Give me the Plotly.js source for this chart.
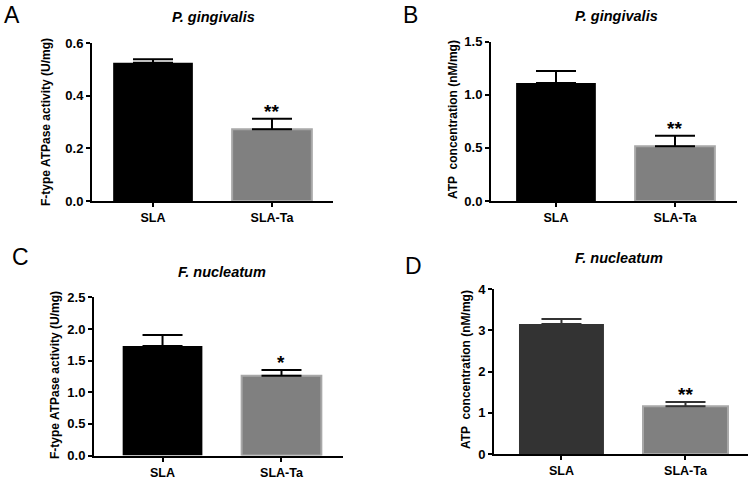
<!DOCTYPE html>
<html><head><meta charset="utf-8">
<script src="https://cdn.plot.ly/plotly-3.0.1.min.js"></script>
<style>html,body{margin:0;padding:0;background:#fff}#chart{width:753px;height:478px}</style>
</head><body><div id="chart"></div>
<script>
var categories = ['SLA', 'SLA-Ta'];
var atpasePg = [0.525, 0.272];
var atpasePgErr = [0.013, 0.040];
var atpPg = [1.11, 0.515];
var atpPgErr = [0.115, 0.100];
var atpaseFn = [1.73, 1.26];
var atpaseFnErr = [0.175, 0.090];
var atpFn = [3.15, 1.16];
var atpFnErr = [0.12, 0.10];
var panelLabels = ['A', 'B', 'C', 'D'];
var panelTitles = ['P. gingivalis', 'P. gingivalis', 'F. nucleatum', 'F. nucleatum'];
var yTitles = ['F-type ATPase activity (U/mg)', 'ATP  concentration (nM/mg)', 'F-type ATPase activity (U/mg)', 'ATP  concentration (nM/mg)'];
var yTickVals = [[0, 0.2, 0.4, 0.6], [0, 0.5, 1.0, 1.5], [0, 0.5, 1.0, 1.5, 2.0, 2.5], [0, 1, 2, 3, 4]];
var yTickText = [['0.0','0.2','0.4','0.6'], ['0.0','0.5','1.0','1.5'], ['0.0','0.5','1.0','1.5','2.0','2.5'], ['0','1','2','3','4']];
var sigStars = ['**', '**', '*', '**'];

var W = 753, H = 478;
function px(x){return x/W;}
function py(y){return 1 - y/H;}
var FONT = 'Liberation Sans, Arial, sans-serif';

// panel geometry (pixels)
var geo = [
  {x0:92, x1:333, yb:201, yt:43, xr:[-0.513,1.513], yr:[0,0.6], bw:0.67, lab:[12,15], tit:[213,17], yt2:[46,122]},
  {x0:491, x1:737, yb:201, yt:41.7, xr:[-0.546,1.521], yr:[0,1.5], bw:0.67, lab:[411,15], tit:[616,16], yt2:[453,120]},
  {x0:94, x1:343, yb:455.5, yt:297.3, xr:[-0.576,1.517], yr:[0,2.5], bw:0.67, lab:[20,257], tit:[222,272], yt2:[55,375]},
  {x0:494, x1:748, yb:454, yt:289, xr:[-0.544,1.504], yr:[0,4], bw:0.685, lab:[414,266], tit:[619,258], yt2:[466,370]}
];
var vals = [atpasePg, atpPg, atpaseFn, atpFn];
var errs = [atpasePgErr, atpPgErr, atpaseFnErr, atpFnErr];
var slaColors = ['#000000', '#000000', '#000000', '#333333'];

var data = [], annotations = [];
var layout = {width:W, height:H, margin:{l:0,r:0,t:0,b:0}, showlegend:false,
  paper_bgcolor:'#fff', plot_bgcolor:'#fff',
  font:{family:FONT, color:'#000'}, annotations:annotations};

for (var i=0;i<4;i++){
  var g = geo[i], n = i===0 ? '' : String(i+1);
  var xa = 'x'+n, ya = 'y'+n;
  data.push({type:'bar', x:categories, y:vals[i], xaxis:xa, yaxis:ya, width:g.bw,
    marker:{color:[slaColors[i], '#808080'], line:{color:[slaColors[i], '#a8a8a8'], width:[0,2]}},
    error_y:{type:'data', symmetric:false, array:errs[i], arrayminus:[0,0], thickness:2, width:20, color:slaColors[i]},
    hoverinfo:'none'});
  layout['xaxis'+n] = {domain:[px(g.x0), px(g.x1)], anchor:ya, type:'category', range:g.xr,
    showline:true, linecolor:'#000', linewidth:2, ticks:'outside', ticklen:4, tickwidth:2, tickcolor:'#000',
    showgrid:false, zeroline:false, fixedrange:true,
    tickfont:{family:FONT, size:12.5, color:'#000', weight:'bold'}};
  layout['yaxis'+n] = {domain:[py(g.yb), py(g.yt)], anchor:xa, range:g.yr,
    tickvals:yTickVals[i], ticktext:yTickText[i],
    showline:true, linecolor:'#000', linewidth:2, ticks:'outside', ticklen:4, tickwidth:2, tickcolor:'#000',
    showgrid:false, zeroline:false, fixedrange:true,
    tickfont:{family:FONT, size:13, color:'#000', weight:'bold'}};
  annotations.push({xref:'paper', yref:'paper', x:px(g.lab[0]), y:py(g.lab[1]), text:panelLabels[i],
    showarrow:false, xanchor:'center', yanchor:'middle', font:{family:FONT, size:23, color:'#000'}});
  annotations.push({xref:'paper', yref:'paper', x:px(g.tit[0]), y:py(g.tit[1]), text:'<b><i>'+panelTitles[i]+'</i></b>',
    showarrow:false, xanchor:'center', yanchor:'middle', font:{family:FONT, size:14.5, color:'#000'}});
  annotations.push({xref:'paper', yref:'paper', x:px(g.yt2[0]), y:py(g.yt2[1]), text:'<b>'+yTitles[i]+'</b>', textangle:-90,
    showarrow:false, xanchor:'center', yanchor:'middle', font:{family:FONT, size:12, color:'#000'}});
  annotations.push({xref:xa, yref:ya, x:categories[1], y:vals[i][1]+errs[i][1], text:'<b>'+sigStars[i]+'</b>',
    showarrow:false, xanchor:'center', yanchor:'bottom', yshift:-5, font:{family:FONT, size:19, color:'#000'}});
}
Plotly.newPlot('chart', data, layout, {staticPlot:true, displayModeBar:false});
</script></body></html>
